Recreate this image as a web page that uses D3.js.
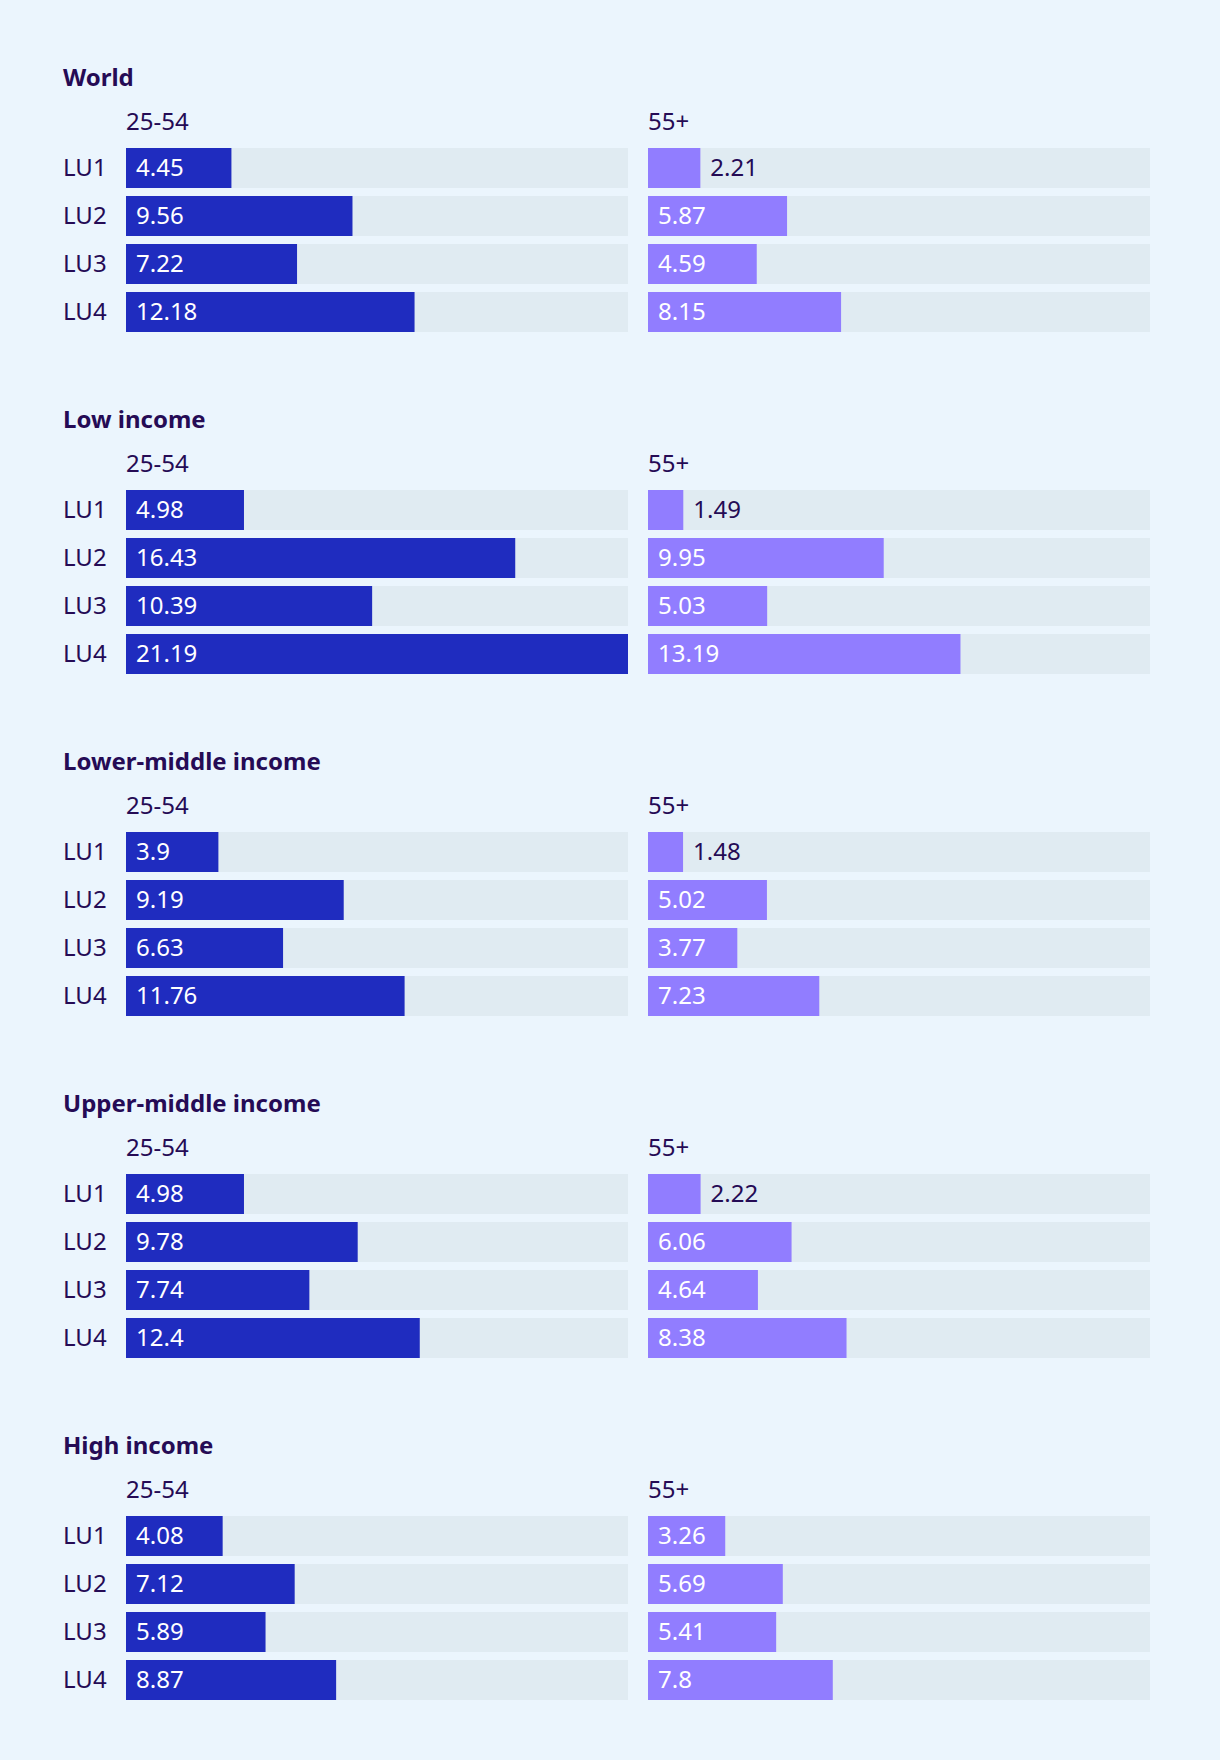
<!DOCTYPE html>
<html>
<head>
<meta charset="utf-8">
<script src="https://cdn.jsdelivr.net/npm/d3@7"></script>
<style>
  html, body { margin: 0; padding: 0; background: #ebf5fd; }
  svg { display: block; font-family: "Noto Sans", "Open Sans", sans-serif; }
</style>
</head>
<body>
<svg id="chart" width="1220" height="1760"></svg>
<script>
const regions = ["World", "Low income", "Lower-middle income", "Upper-middle income", "High income"];
const categories = ["LU1", "LU2", "LU3", "LU4"];
const ageGroups = ["25-54", "55+"];
const values2554 = [
  [4.45, 9.56, 7.22, 12.18],
  [4.98, 16.43, 10.39, 21.19],
  [3.9, 9.19, 6.63, 11.76],
  [4.98, 9.78, 7.74, 12.4],
  [4.08, 7.12, 5.89, 8.87]
];
const values55 = [
  [2.21, 5.87, 4.59, 8.15],
  [1.49, 9.95, 5.03, 13.19],
  [1.48, 5.02, 3.77, 7.23],
  [2.22, 6.06, 4.64, 8.38],
  [3.26, 5.69, 5.41, 7.8]
];

const colors = { "25-54": "#1f2cbf", "55+": "#917dff" };
const trackColor = "#e0ebf2";
const textColor = "#250b55";

const svg = d3.select("#chart");
const maxVal = d3.max([...values2554.flat(), ...values55.flat()]);

const x0 = 126, colW = 502, colGap = 20;
const colX = d3.scaleBand().domain(ageGroups).range([x0, x0 + 2 * colW + colGap]).paddingInner(colGap / (colW + colGap));
const x = d3.scaleLinear().domain([0, maxVal]).range([0, colX.bandwidth()]);
const y = d3.scaleBand().domain(categories).range([0, 184]).paddingInner(8 / 48);

const panelY = d3.scaleBand().domain(regions).range([0, 342 * regions.length]);
const pad = 10;

regions.forEach((region, ri) => {
  const g = svg.append("g").attr("transform", `translate(0,${panelY(region)})`);
  g.append("text")
    .attr("x", 63).attr("y", 77.5).attr("dy", "0.35em")
    .attr("fill", textColor).attr("font-size", 24).attr("font-weight", 700)
    .text(region);

  const barsTop = 148;
  categories.forEach(c => {
    g.append("text")
      .attr("x", 63).attr("y", barsTop + y(c) + y.bandwidth() / 2).attr("dy", "0.35em")
      .attr("fill", textColor).attr("font-size", 24)
      .text(c);
  });

  ageGroups.forEach(age => {
    const vals = age === "25-54" ? values2554[ri] : values55[ri];
    const cx = colX(age);
    const cg = g.append("g").attr("transform", `translate(${cx},0)`);
    cg.append("text")
      .attr("x", 0).attr("y", 121.5).attr("dy", "0.35em")
      .attr("fill", textColor).attr("font-size", 24)
      .text(age);
    const rows = cg.selectAll("g.row").data(categories.map((c, i) => ({ c, v: vals[i] })))
      .join("g").attr("class", "row")
      .attr("transform", d => `translate(0,${barsTop + y(d.c)})`);
    rows.append("rect")
      .attr("width", colX.bandwidth()).attr("height", y.bandwidth())
      .attr("fill", trackColor);
    rows.append("rect")
      .attr("width", d => x(d.v)).attr("height", y.bandwidth())
      .attr("fill", colors[age]);
    rows.append("text")
      .attr("y", y.bandwidth() / 2).attr("dy", "0.35em")
      .attr("font-size", 24)
      .text(d => String(d.v))
      .each(function (d) {
        const w = this.getComputedTextLength();
        const bw = x(d.v);
        const inside = bw >= w + 2 * pad;
        d3.select(this)
          .attr("x", inside ? pad : bw + pad)
          .attr("fill", inside ? "#ffffff" : textColor);
      });
  });
});
</script>
</body>
</html>
